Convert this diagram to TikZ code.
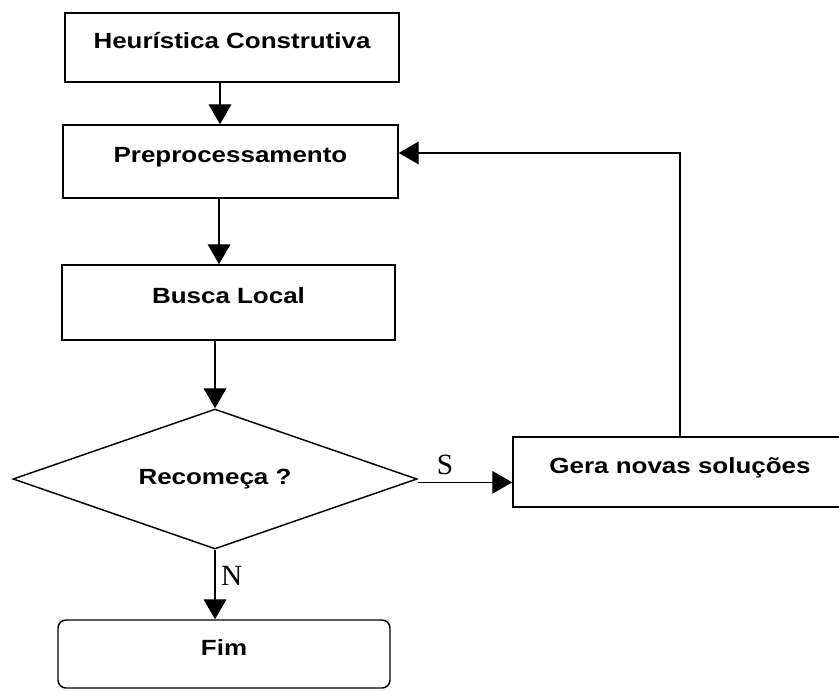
\documentclass[tikz,border=0pt]{standalone}
\usepackage{fontspec}
\setmainfont[FakeStretch=1.18]{Liberation Sans}
\newfontfamily\letrafont{Liberation Serif}
\usetikzlibrary{shapes.geometric,arrows.meta,positioning}

\tikzset{
  bloco/.style={draw, line width=1.1pt, inner sep=0pt,
    font=\fontsize{16.5}{18}\selectfont\bfseries,
    text height=11.8pt, text depth=10pt},
  decisao/.style={draw, diamond, aspect=2.9, line width=1.1pt, inner sep=0pt,
    minimum width=303pt, minimum height=105pt,
    font=\fontsize{16.5}{18}\selectfont\bfseries},
  seta/.style={-{Triangle[length=15pt,width=17pt]}, line width=1pt},
  rotulo/.style={font=\letrafont\fontsize{22}{24}\selectfont, inner sep=1pt}
}

\begin{document}
\begin{tikzpicture}[x=0.75pt, y=-0.75pt]
        \useasboundingbox (0,0) rectangle (839,690);
        \node[bloco, minimum width=250.5pt, minimum height=51.75pt] (heur) at (232,47.5) {Heurística Construtiva};
        \node[bloco, minimum width=251.25pt, minimum height=54.75pt] (pre) at (230.5,161.5) {Preprocessamento};
        \node[bloco, minimum width=249.75pt, minimum height=56.25pt] (busca) at (228.5,302.5) {Busca Local};
        \node[decisao] (recomeca) at (215,479) {Recomeça ?};
        \node[bloco, minimum width=250.5pt, minimum height=52.5pt] (gera) at (680,472) {Gera novas soluções};
        \node[bloco, rounded corners=6pt, minimum width=249pt, minimum height=51pt] (fim) at (224,654) {Fim};

        \coordinate (s1) at ([xshift=-9pt]heur.south);
        \coordinate (s2) at ([xshift=-8.6pt]pre.south);
        \coordinate (volta) at ([yshift=6.4pt]pre.east);
        \coordinate (sai) at ([yshift=-2.5pt]recomeca.east);

        \draw[seta] (s1) -- (s1 |- pre.north);
        \draw[seta] (s2) -- (s2 |- busca.north);
        \draw[seta] (busca.south -| recomeca.north) -- (recomeca.north);
        \draw[seta] (sai) -- (sai -| gera.west) node[rotulo, pos=0.29, above=4pt] (sim) {S};
        \draw[seta] (recomeca.south) -- (recomeca.south |- fim.north) node[rotulo, pos=0.38, right=3pt] (nao) {N};
        \draw[seta] (gera.north) |- (volta);
\end{tikzpicture}
\end{document}
